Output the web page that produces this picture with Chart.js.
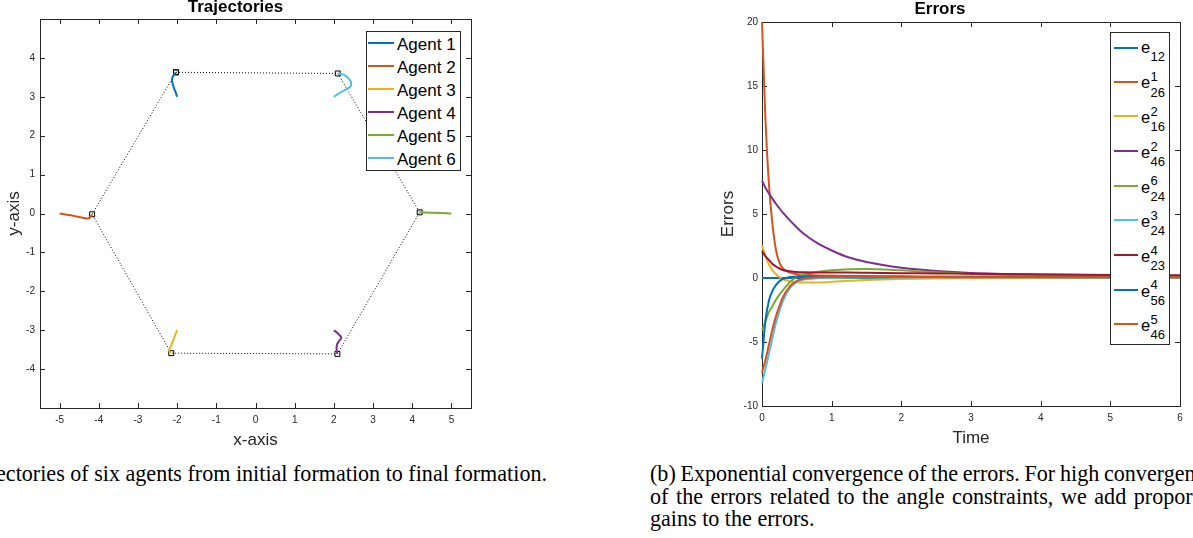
<!DOCTYPE html>
<html>
<head>
<meta charset="utf-8">
<script src="https://cdn.jsdelivr.net/npm/chart.js@4.4.1/dist/chart.umd.min.js"></script>
<style>
    html, body { margin: 0; padding: 0; background: #fff; }
    body { width: 1193px; height: 538px; position: relative; overflow: hidden; font-family: 'Liberation Sans', Arial, sans-serif; }
    .plot { position: absolute; top: 0; }
    #trajBox { left: 0; width: 500px; height: 460px; }
    #errBox { left: 700px; width: 493px; height: 460px; }
    .legend { position: absolute; background: #fff; border: 1px solid #262626; box-sizing: border-box; }
    #trajLegend { left: 366px; top: 31px; width: 95px; height: 140px; }
    #errLegend { left: 1110px; top: 32px; width: 60px; height: 313px; }
    .key { position: absolute; height: 2px; }
    .lbl { position: absolute; white-space: nowrap; line-height: 1; color: #000; transform: translateY(-50%); }
    .caption { position: absolute; font-family: 'Liberation Serif', 'Times New Roman', serif; font-size: 22.1px; line-height: 22.5px; color: #000; white-space: nowrap; }
    #capA { top: 463px; right: 646px; }
    .capB { left: 650px; width: 593px; text-align: justify; }
    .capB.full { text-align-last: justify; }
    .capB.tight { word-spacing: -0.8px; }
</style>
</head>
<body>
<div class="plot" id="trajBox"><canvas id="trajChart"></canvas></div>
<div class="plot" id="errBox"><canvas id="errChart"></canvas></div>
<div class="legend" id="trajLegend"></div>
<div class="legend" id="errLegend"></div>
<div class="caption" id="capA">(a) Trajectories of six agents from initial formation to final formation.</div>
<div class="caption capB tight" style="top:463px">(b) Exponential convergence of the errors. For high convergence rate</div>
<div class="caption capB full" style="top:485.5px">of the errors related to the angle constraints, we add proportional</div>
<div class="caption capB" style="top:508px">gains to the errors.</div>
<script>
// --- trajectories (left) ---
const agentNames = ['Agent 1', 'Agent 2', 'Agent 3', 'Agent 4', 'Agent 5', 'Agent 6'];
const agentColors = ['#0072BD', '#D95319', '#EDB120', '#7E2F8E', '#77AC30', '#4DBEEE'];

const agent1X = [-2.0, -2.04, -2.09, -2.13, -2.12, -2.07, -2.03];
const agent1Y = [3.0, 3.12, 3.25, 3.4, 3.5, 3.58, 3.63];
const agent2X = [-5.0, -4.75, -4.5, -4.3, -4.22, -4.17];
const agent2Y = [0.0, -0.04, -0.09, -0.13, -0.1, -0.02];
const agent3X = [-2.0, -2.07, -2.14, -2.2, -2.17];
const agent3Y = [-3.0, -3.18, -3.36, -3.52, -3.59];
const agent4X = [2.0, 2.1, 2.19, 2.13, 2.08, 2.07, 2.09];
const agent4Y = [-3.0, -3.08, -3.19, -3.28, -3.37, -3.5, -3.61];
const agent5X = [5.0, 4.6, 4.19];
const agent5Y = [0.0, 0.02, 0.03];
const agent6X = [2.0, 2.2, 2.42, 2.44, 2.38, 2.25, 2.1];
const agent6Y = [3.0, 3.13, 3.26, 3.36, 3.47, 3.57, 3.6];

const formationX = [-2.03, 2.1, 4.19, 2.09, -2.15, -4.17, -2.03];
const formationY = [3.63, 3.6, 0.03, -3.61, -3.59, -0.02, 3.63];

const trajXTicks = [-5, -4, -3, -2, -1, 0, 1, 2, 3, 4, 5];
const trajYTicks = [-4, -3, -2, -1, 0, 1, 2, 3, 4];

// --- errors (right) ---
const timeValues = [0, 0.05, 0.1, 0.15, 0.2, 0.25, 0.3, 0.4, 0.5, 0.6, 0.8, 1, 1.25, 1.5, 2, 2.5, 3, 4, 5, 6];
const errorSub = ['12', '26', '16', '46', '24', '24', '23', '56', '46'];
const errorSup = ['', '1', '2', '2', '6', '3', '4', '4', '5'];
const errorColors = ['#0072BD', '#D95319', '#EDB120', '#7E2F8E', '#77AC30', '#4DBEEE', '#A2142F', '#0072BD', '#D95319'];

const e12   = [0, 0, 0, 0, 0, 0, 0, 0, 0, 0, 0, 0, 0, 0, 0, 0, 0, 0, 0, 0];
const e26_1 = [20, 12.3, 7.3, 4.2, 2.2, 1.2, 0.75, 0.42, 0.3, 0.25, 0.2, 0.18, 0.16, 0.15, 0.13, 0.12, 0.11, 0.1, 0.1, 0.1];
const e16_2 = [2.55, 1.7, 1.05, 0.6, 0.3, 0.08, -0.08, -0.25, -0.33, -0.36, -0.35, -0.3, -0.22, -0.15, -0.07, -0.03, -0.01, 0, 0, 0];
const e46_2 = [7.6, 7.05, 6.6, 6.2, 5.8, 5.45, 5.1, 4.5, 3.95, 3.45, 2.7, 2.15, 1.6, 1.25, 0.8, 0.55, 0.4, 0.28, 0.22, 0.2];
const e24_6 = [-4.1, -3.4, -2.65, -2.2, -1.7, -1.3, -0.95, -0.33, 0.08, 0.3, 0.48, 0.6, 0.68, 0.7, 0.6, 0.45, 0.32, 0.17, 0.1, 0.07];
const e24_3 = [-8.2, -7.1, -5.9, -4.7, -3.5, -2.6, -1.8, -0.8, -0.32, -0.12, -0.02, 0, 0.02, 0.03, 0.04, 0.05, 0.05, 0.05, 0.05, 0.05];
const e23_4 = [2.1, 1.7, 1.4, 1.1, 0.9, 0.75, 0.63, 0.52, 0.46, 0.44, 0.43, 0.42, 0.42, 0.41, 0.38, 0.36, 0.33, 0.28, 0.24, 0.2];
const e56_4 = [-6.3, -3.3, -1.75, -1.0, -0.55, -0.25, -0.08, 0.08, 0.12, 0.12, 0.12, 0.11, 0.1, 0.1, 0.09, 0.08, 0.08, 0.07, 0.06, 0.05];
const e46_5 = [-7.4, -6.4, -5.2, -4.0, -3.0, -2.2, -1.5, -0.65, -0.22, -0.05, 0.05, 0.08, 0.08, 0.08, 0.07, 0.07, 0.06, 0.06, 0.05, 0.05];

const errYTicks = [-10, -5, 0, 5, 10, 15, 20];
const timeTicks = [0, 1, 2, 3, 4, 5, 6];

const agentX = [agent1X, agent2X, agent3X, agent4X, agent5X, agent6X];
const agentY = [agent1Y, agent2Y, agent3Y, agent4Y, agent5Y, agent6Y];
const errorSeries = [e12, e26_1, e16_2, e46_2, e24_6, e24_3, e23_4, e56_4, e46_5];

const axisColor = '#262626';
const toPoints = (xs, ys) => xs.map((x, i) => ({ x: x, y: ys[i] }));

// MATLAB style box with inward ticks on all four sides
const boxTicks = {
    id: 'boxTicks',
    beforeDatasetsDraw(chart) {
        const { ctx, chartArea: a, scales } = chart;
        const len = 5;
        ctx.save();
        ctx.strokeStyle = axisColor;
        ctx.lineWidth = 1;
        ctx.beginPath();
        scales.x.ticks.forEach((t) => {
            const px = Math.round(scales.x.getPixelForValue(t.value)) + 0.5;
            ctx.moveTo(px, a.bottom); ctx.lineTo(px, a.bottom - len);
            ctx.moveTo(px, a.top); ctx.lineTo(px, a.top + len);
        });
        scales.y.ticks.forEach((t) => {
            const py = Math.round(scales.y.getPixelForValue(t.value)) + 0.5;
            ctx.moveTo(a.left, py); ctx.lineTo(a.left + len, py);
            ctx.moveTo(a.right, py); ctx.lineTo(a.right - len, py);
        });
        ctx.stroke();
        ctx.strokeRect(Math.round(a.left) + 0.5, Math.round(a.top) + 0.5, Math.round(a.right - a.left), Math.round(a.bottom - a.top));
        ctx.restore();
    }
};

function axis(min, max, tickList, size, tickPad, titleText, titlePad) {
    return {
        type: 'linear',
        min: min,
        max: max,
        grid: { display: false, drawTicks: false },
        border: { display: false },
        ticks: { color: axisColor, font: { size: 10 }, padding: tickPad, maxRotation: 0, autoSkip: false },
        afterBuildTicks: (s) => { s.ticks = tickList.map((v) => ({ value: v })); },
        afterFit: (s) => { if (s.isHorizontal()) s.height = size; else s.width = size; },
        title: { display: true, text: titleText, color: axisColor, font: { size: 17 }, padding: titlePad }
    };
}

Chart.defaults.font.family = "'Liberation Sans', Arial, sans-serif";

new Chart(document.getElementById('trajChart'), {
    type: 'scatter',
    data: {
        datasets: agentX.map((xs, i) => ({
            label: agentNames[i],
            data: toPoints(xs, agentY[i]),
            showLine: true,
            borderColor: agentColors[i],
            backgroundColor: agentColors[i],
            borderWidth: 2,
            pointRadius: 0,
            tension: 0.3
        })).concat([{
            label: 'formation',
            data: toPoints(formationX, formationY),
            showLine: true,
            borderColor: '#000',
            borderWidth: 1,
            borderDash: [1, 2],
            pointStyle: 'rect',
            pointRadius: 3.5,
            pointBorderColor: '#000',
            pointBackgroundColor: 'rgba(0,0,0,0)',
            pointBorderWidth: 1,
            tension: 0
        }])
    },
    options: {
        responsive: true,
        maintainAspectRatio: false,
        animation: false,
        layout: { padding: { left: 0, right: 29, top: 0, bottom: 0 } },
        plugins: {
            legend: { display: false },
            tooltip: { enabled: false },
            title: { display: true, text: 'Trajectories', color: '#000', font: { size: 17, weight: 'bold' }, padding: { top: -3, bottom: 1.6 } }
        },
        scales: {
            x: axis(-5.5, 5.5, trajXTicks, 52, 6, 'x-axis', { top: 0, bottom: 9.8 }),
            y: axis(-5, 5, trajYTicks, 40, 5, 'y-axis', { top: 3.8, bottom: 0 })
        }
    },
    plugins: [boxTicks]
});

new Chart(document.getElementById('errChart'), {
    type: 'line',
    data: {
        datasets: errorSeries.map((vals, i) => ({
            label: 'e' + errorSub[i] + errorSup[i],
            data: toPoints(timeValues, vals),
            borderColor: errorColors[i],
            backgroundColor: errorColors[i],
            borderWidth: 2,
            pointRadius: 0,
            cubicInterpolationMode: 'monotone',
            clip: false,
            order: -i
        }))
    },
    options: {
        responsive: true,
        maintainAspectRatio: false,
        animation: false,
        layout: { padding: { left: 0, right: 13, top: 0, bottom: 0 } },
        plugins: {
            legend: { display: false },
            tooltip: { enabled: false },
            title: { display: true, text: 'Errors', color: '#000', font: { size: 17, weight: 'bold' }, padding: { top: -0.9, bottom: 2.5 } }
        },
        scales: {
            x: axis(0, 6, timeTicks, 54, 6.3, 'Time', { top: 0, bottom: 11.8 }),
            y: axis(-10, 20, errYTicks, 62, 4, 'Errors', { top: 17.8, bottom: 0 })
        }
    },
    plugins: [boxTicks]
});

// legends drawn as html boxes over the plot area
document.getElementById('trajLegend').innerHTML = agentNames.map((name, i) => `
    <div class="key" style="left:1px; top:${10 + 23 * i}px; width:26px; background:${agentColors[i]}"></div>
    <div class="lbl" style="left:30px; top:${12 + 23 * i}px; font-size:17px">${name}</div>
`).join('');

document.getElementById('errLegend').innerHTML = errorSub.map((sub, i) => {
    const line = (i === 0 ? 48 : 81.5 + 34.7 * (i - 1)) - 33;
    const hasSup = errorSup[i] !== '';
    const eY = (hasSup ? line + 2.3 : line) - 1.4;
    const subY = hasSup ? line + 10 : line + 7.7;
    return `
    <div class="key" style="left:3px; top:${line - 1}px; width:24px; background:${errorColors[i]}"></div>
    <div class="lbl" style="left:30px; top:${eY}px; font-size:16.5px">e</div>
    ${hasSup ? `<div class="lbl" style="left:39.5px; top:${line - 5.3}px; font-size:13px">${errorSup[i]}</div>` : ''}
    <div class="lbl" style="left:39.5px; top:${subY}px; font-size:13px">${sub}</div>`;
}).join('');
</script>
</body>
</html>
